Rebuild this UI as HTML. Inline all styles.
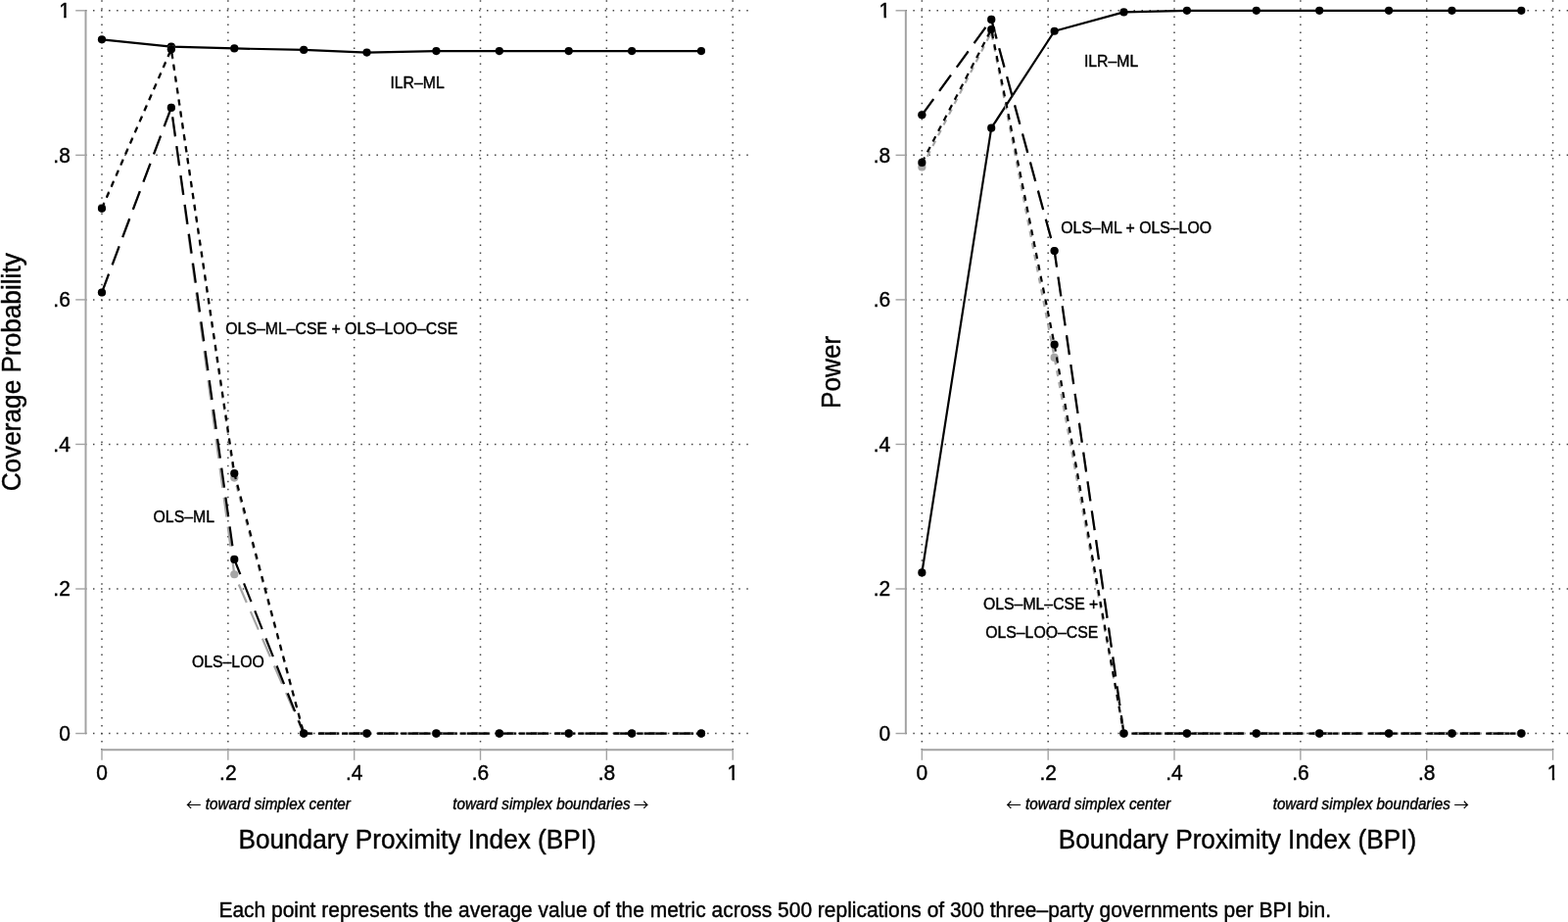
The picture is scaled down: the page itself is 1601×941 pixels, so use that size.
<!DOCTYPE html>
<html lang="en"><head><meta charset="utf-8"><title>Coverage Probability and Power by Boundary Proximity Index</title>
<style>html,body{margin:0;padding:0;background:#fff;}body{width:1601px;height:941px;overflow:hidden;}svg{display:block;}text.ar{font-family:"Noto Sans CJK SC","Liberation Sans",sans-serif;stroke-width:0.1px;}text{font-family:"Liberation Sans",sans-serif;fill:#000;stroke:#000;stroke-width:0.4px;stroke-linejoin:round;}</style></head><body>
<svg width="1601" height="941" viewBox="0 0 1601 941">
<rect width="1601" height="941" fill="#fff"/>
<defs><clipPath id="c1e"><path d="M-13.65 -22H2.00V-2.05H-4.18V2H-6.53V-2.05H-13.65Z"/></clipPath><clipPath id="c1m"><path d="M-7.83 -22H7.83V-2.05H1.65V2H-0.71V-2.05H-7.83Z"/></clipPath></defs>
<g>
<g stroke="#454545" stroke-width="1.5" stroke-dasharray="1.5 6.54" fill="none">
<line x1="86.95" y1="748.55" x2="768.00" y2="748.55"/>
<line x1="86.95" y1="601.00" x2="768.00" y2="601.00"/>
<line x1="86.95" y1="453.45" x2="768.00" y2="453.45"/>
<line x1="86.95" y1="305.90" x2="768.00" y2="305.90"/>
<line x1="86.95" y1="158.35" x2="768.00" y2="158.35"/>
<line x1="86.95" y1="10.80" x2="768.00" y2="10.80"/>
<line x1="104.00" y1="765.60" x2="104.00" y2="-8.00"/>
<line x1="232.84" y1="765.60" x2="232.84" y2="-8.00"/>
<line x1="361.68" y1="765.60" x2="361.68" y2="-8.00"/>
<line x1="490.52" y1="765.60" x2="490.52" y2="-8.00"/>
<line x1="619.36" y1="765.60" x2="619.36" y2="-8.00"/>
<line x1="748.20" y1="765.60" x2="748.20" y2="-8.00"/>
</g>
<g stroke="#a3a3a3" fill="none">
<line x1="87.50" y1="10.60" x2="87.50" y2="748.75" stroke-width="2"/>
<line x1="103.80" y1="765.20" x2="748.40" y2="765.20" stroke-width="1.9"/>
<line x1="77.20" y1="748.55" x2="87.50" y2="748.55" stroke-width="1.4"/>
<line x1="104.00" y1="765.20" x2="104.00" y2="775.80" stroke-width="1.4"/>
<line x1="77.20" y1="601.00" x2="87.50" y2="601.00" stroke-width="1.4"/>
<line x1="232.84" y1="765.20" x2="232.84" y2="775.80" stroke-width="1.4"/>
<line x1="77.20" y1="453.45" x2="87.50" y2="453.45" stroke-width="1.4"/>
<line x1="361.68" y1="765.20" x2="361.68" y2="775.80" stroke-width="1.4"/>
<line x1="77.20" y1="305.90" x2="87.50" y2="305.90" stroke-width="1.4"/>
<line x1="490.52" y1="765.20" x2="490.52" y2="775.80" stroke-width="1.4"/>
<line x1="77.20" y1="158.35" x2="87.50" y2="158.35" stroke-width="1.4"/>
<line x1="619.36" y1="765.20" x2="619.36" y2="775.80" stroke-width="1.4"/>
<line x1="77.20" y1="10.80" x2="87.50" y2="10.80" stroke-width="1.4"/>
<line x1="748.20" y1="765.20" x2="748.20" y2="775.80" stroke-width="1.4"/>
</g>
<g font-size="20.96">
<text text-anchor="end" transform="translate(71.80 755.95) scale(1 1.040)">0</text>
<text text-anchor="end" transform="translate(71.80 608.40) scale(1 1.040)">.2</text>
<text text-anchor="end" transform="translate(71.80 460.85) scale(1 1.040)">.4</text>
<text text-anchor="end" transform="translate(71.80 313.30) scale(1 1.040)">.6</text>
<text text-anchor="end" transform="translate(71.80 165.75) scale(1 1.040)">.8</text>
<text text-anchor="end" clip-path="url(#c1e)" transform="translate(71.80 18.20) scale(1 1.040)">1</text>
<text text-anchor="middle" transform="translate(104.00 796.00) scale(1 1.040)">0</text>
<text text-anchor="middle" transform="translate(232.84 796.00) scale(1 1.040)">.2</text>
<text text-anchor="middle" transform="translate(361.68 796.00) scale(1 1.040)">.4</text>
<text text-anchor="middle" transform="translate(490.52 796.00) scale(1 1.040)">.6</text>
<text text-anchor="middle" transform="translate(619.36 796.00) scale(1 1.040)">.8</text>
<text text-anchor="middle" clip-path="url(#c1m)" transform="translate(748.20 796.00) scale(1 1.040)">1</text>
</g>
<text font-size="26.20" text-anchor="middle" transform="translate(20.60 379.80) rotate(-90) scale(1 1.040)">Coverage Probability</text>
<text font-size="26.20" text-anchor="middle" transform="translate(426.10 865.50) scale(1 1.040)">Boundary Proximity Index (BPI)</text>
<text font-size="15.25" font-style="italic" transform="translate(209.70 825.90) scale(1 1.040)">toward simplex center</text>
<text font-size="15.25" font-style="italic" transform="translate(462.30 825.90) scale(1 1.040)">toward simplex boundaries</text>
<text font-size="15.40" class="ar" transform="translate(189.90 827.20)">←</text>
<text font-size="15.40" class="ar" transform="translate(647.10 827.20)">→</text>
<polyline points="104.00,40.31 174.86,47.69 239.28,49.46 310.14,50.93 374.56,53.59 445.43,52.11 509.85,52.11 580.71,52.11 645.13,52.11 715.99,52.11" fill="none" stroke="#000" stroke-width="2.20" stroke-linejoin="round"/>
<g fill="#000"><circle cx="104.00" cy="40.31" r="4.10"/><circle cx="174.86" cy="47.69" r="4.10"/><circle cx="239.28" cy="49.46" r="4.10"/><circle cx="310.14" cy="50.93" r="4.10"/><circle cx="374.56" cy="53.59" r="4.10"/><circle cx="445.43" cy="52.11" r="4.10"/><circle cx="509.85" cy="52.11" r="4.10"/><circle cx="580.71" cy="52.11" r="4.10"/><circle cx="645.13" cy="52.11" r="4.10"/><circle cx="715.99" cy="52.11" r="4.10"/></g>
<polyline points="104.00,298.52 174.86,109.88 239.28,586.24 310.14,748.55 374.56,748.55 445.43,748.55 509.85,748.55 580.71,748.55 645.13,748.55 715.99,748.55" fill="none" stroke="#a6a6a6" stroke-width="2.20" stroke-linejoin="round" stroke-dasharray="20.10 10.05"/>
<g fill="#a6a6a6"><circle cx="104.00" cy="298.52" r="4.10"/><circle cx="174.86" cy="109.88" r="4.10"/><circle cx="239.28" cy="586.24" r="4.10"/><circle cx="310.14" cy="748.55" r="4.10"/><circle cx="374.56" cy="748.55" r="4.10"/><circle cx="445.43" cy="748.55" r="4.10"/><circle cx="509.85" cy="748.55" r="4.10"/><circle cx="580.71" cy="748.55" r="4.10"/><circle cx="645.13" cy="748.55" r="4.10"/><circle cx="715.99" cy="748.55" r="4.10"/></g>
<polyline points="104.00,298.52 174.86,109.88 239.28,570.97 310.14,748.55 374.56,748.55 445.43,748.55 509.85,748.55 580.71,748.55 645.13,748.55 715.99,748.55" fill="none" stroke="#000" stroke-width="2.20" stroke-linejoin="round" stroke-dasharray="20.10 10.05"/>
<g fill="#000"><circle cx="104.00" cy="298.52" r="4.10"/><circle cx="174.86" cy="109.88" r="4.10"/><circle cx="239.28" cy="570.97" r="4.10"/><circle cx="310.14" cy="748.55" r="4.10"/><circle cx="374.56" cy="748.55" r="4.10"/><circle cx="445.43" cy="748.55" r="4.10"/><circle cx="509.85" cy="748.55" r="4.10"/><circle cx="580.71" cy="748.55" r="4.10"/><circle cx="645.13" cy="748.55" r="4.10"/><circle cx="715.99" cy="748.55" r="4.10"/></g>
<polyline points="104.00,211.84 174.86,50.20 239.28,487.61 310.14,748.55 374.56,748.55 445.43,748.55 509.85,748.55 580.71,748.55 645.13,748.55 715.99,748.55" fill="none" stroke="#a6a6a6" stroke-width="2.20" stroke-linejoin="round" stroke-dasharray="6.03 6.03"/>
<g fill="#a6a6a6"><circle cx="104.00" cy="211.84" r="4.10"/><circle cx="174.86" cy="50.20" r="4.10"/><circle cx="239.28" cy="487.61" r="4.10"/><circle cx="310.14" cy="748.55" r="4.10"/><circle cx="374.56" cy="748.55" r="4.10"/><circle cx="445.43" cy="748.55" r="4.10"/><circle cx="509.85" cy="748.55" r="4.10"/><circle cx="580.71" cy="748.55" r="4.10"/><circle cx="645.13" cy="748.55" r="4.10"/><circle cx="715.99" cy="748.55" r="4.10"/></g>
<polyline points="104.00,212.80 174.86,50.20 239.28,483.18 310.14,748.55 374.56,748.55 445.43,748.55 509.85,748.55 580.71,748.55 645.13,748.55 715.99,748.55" fill="none" stroke="#000" stroke-width="2.20" stroke-linejoin="round" stroke-dasharray="6.03 6.03"/>
<g fill="#000"><circle cx="104.00" cy="212.80" r="4.10"/><circle cx="174.86" cy="50.20" r="4.10"/><circle cx="239.28" cy="483.18" r="4.10"/><circle cx="310.14" cy="748.55" r="4.10"/><circle cx="374.56" cy="748.55" r="4.10"/><circle cx="445.43" cy="748.55" r="4.10"/><circle cx="509.85" cy="748.55" r="4.10"/><circle cx="580.71" cy="748.55" r="4.10"/><circle cx="645.13" cy="748.55" r="4.10"/><circle cx="715.99" cy="748.55" r="4.10"/></g>
<g font-size="15.84">
<text text-anchor="middle" transform="translate(426.10 90.47) scale(1 1.040)">ILR–ML</text>
<text text-anchor="middle" transform="translate(348.80 341.31) scale(1 1.040)">OLS–ML–CSE + OLS–LOO–CSE</text>
<text text-anchor="middle" transform="translate(187.75 533.12) scale(1 1.040)">OLS–ML</text>
<text text-anchor="middle" transform="translate(232.84 680.67) scale(1 1.040)">OLS–LOO</text>
</g>
</g>
<g>
<g stroke="#454545" stroke-width="1.5" stroke-dasharray="1.5 6.54" fill="none">
<line x1="924.30" y1="748.55" x2="1605.00" y2="748.55"/>
<line x1="924.30" y1="601.00" x2="1605.00" y2="601.00"/>
<line x1="924.30" y1="453.45" x2="1605.00" y2="453.45"/>
<line x1="924.30" y1="305.90" x2="1605.00" y2="305.90"/>
<line x1="924.30" y1="158.35" x2="1605.00" y2="158.35"/>
<line x1="924.30" y1="10.80" x2="1605.00" y2="10.80"/>
<line x1="941.35" y1="765.60" x2="941.35" y2="-8.00"/>
<line x1="1070.19" y1="765.60" x2="1070.19" y2="-8.00"/>
<line x1="1199.03" y1="765.60" x2="1199.03" y2="-8.00"/>
<line x1="1327.87" y1="765.60" x2="1327.87" y2="-8.00"/>
<line x1="1456.71" y1="765.60" x2="1456.71" y2="-8.00"/>
<line x1="1585.55" y1="765.60" x2="1585.55" y2="-8.00"/>
</g>
<g stroke="#a3a3a3" fill="none">
<line x1="924.85" y1="10.60" x2="924.85" y2="748.75" stroke-width="2"/>
<line x1="941.15" y1="765.20" x2="1585.75" y2="765.20" stroke-width="1.9"/>
<line x1="914.55" y1="748.55" x2="924.85" y2="748.55" stroke-width="1.4"/>
<line x1="941.35" y1="765.20" x2="941.35" y2="775.80" stroke-width="1.4"/>
<line x1="914.55" y1="601.00" x2="924.85" y2="601.00" stroke-width="1.4"/>
<line x1="1070.19" y1="765.20" x2="1070.19" y2="775.80" stroke-width="1.4"/>
<line x1="914.55" y1="453.45" x2="924.85" y2="453.45" stroke-width="1.4"/>
<line x1="1199.03" y1="765.20" x2="1199.03" y2="775.80" stroke-width="1.4"/>
<line x1="914.55" y1="305.90" x2="924.85" y2="305.90" stroke-width="1.4"/>
<line x1="1327.87" y1="765.20" x2="1327.87" y2="775.80" stroke-width="1.4"/>
<line x1="914.55" y1="158.35" x2="924.85" y2="158.35" stroke-width="1.4"/>
<line x1="1456.71" y1="765.20" x2="1456.71" y2="775.80" stroke-width="1.4"/>
<line x1="914.55" y1="10.80" x2="924.85" y2="10.80" stroke-width="1.4"/>
<line x1="1585.55" y1="765.20" x2="1585.55" y2="775.80" stroke-width="1.4"/>
</g>
<g font-size="20.96">
<text text-anchor="end" transform="translate(909.15 755.95) scale(1 1.040)">0</text>
<text text-anchor="end" transform="translate(909.15 608.40) scale(1 1.040)">.2</text>
<text text-anchor="end" transform="translate(909.15 460.85) scale(1 1.040)">.4</text>
<text text-anchor="end" transform="translate(909.15 313.30) scale(1 1.040)">.6</text>
<text text-anchor="end" transform="translate(909.15 165.75) scale(1 1.040)">.8</text>
<text text-anchor="end" clip-path="url(#c1e)" transform="translate(909.15 18.20) scale(1 1.040)">1</text>
<text text-anchor="middle" transform="translate(941.35 796.00) scale(1 1.040)">0</text>
<text text-anchor="middle" transform="translate(1070.19 796.00) scale(1 1.040)">.2</text>
<text text-anchor="middle" transform="translate(1199.03 796.00) scale(1 1.040)">.4</text>
<text text-anchor="middle" transform="translate(1327.87 796.00) scale(1 1.040)">.6</text>
<text text-anchor="middle" transform="translate(1456.71 796.00) scale(1 1.040)">.8</text>
<text text-anchor="middle" clip-path="url(#c1m)" transform="translate(1585.55 796.00) scale(1 1.040)">1</text>
</g>
<text font-size="26.20" text-anchor="middle" transform="translate(857.95 379.80) rotate(-90) scale(1 1.040)">Power</text>
<text font-size="26.20" text-anchor="middle" transform="translate(1263.45 865.50) scale(1 1.040)">Boundary Proximity Index (BPI)</text>
<text font-size="15.25" font-style="italic" transform="translate(1047.05 825.90) scale(1 1.040)">toward simplex center</text>
<text font-size="15.25" font-style="italic" transform="translate(1299.65 825.90) scale(1 1.040)">toward simplex boundaries</text>
<text font-size="15.40" class="ar" transform="translate(1027.25 827.20)">←</text>
<text font-size="15.40" class="ar" transform="translate(1484.45 827.20)">→</text>
<polyline points="941.35,584.47 1012.21,130.68 1076.63,31.75 1147.49,12.42 1211.91,10.80 1282.78,10.80 1347.20,10.80 1418.06,10.80 1482.48,10.80 1553.34,10.80" fill="none" stroke="#000" stroke-width="2.20" stroke-linejoin="round"/>
<g fill="#000"><circle cx="941.35" cy="584.47" r="4.10"/><circle cx="1012.21" cy="130.68" r="4.10"/><circle cx="1076.63" cy="31.75" r="4.10"/><circle cx="1147.49" cy="12.42" r="4.10"/><circle cx="1211.91" cy="10.80" r="4.10"/><circle cx="1282.78" cy="10.80" r="4.10"/><circle cx="1347.20" cy="10.80" r="4.10"/><circle cx="1418.06" cy="10.80" r="4.10"/><circle cx="1482.48" cy="10.80" r="4.10"/><circle cx="1553.34" cy="10.80" r="4.10"/></g>
<polyline points="941.35,117.33 1012.21,19.95 1076.63,256.03 1147.49,748.55 1211.91,748.55 1282.78,748.55 1347.20,748.55 1418.06,748.55 1482.48,748.55 1553.34,748.55" fill="none" stroke="#a6a6a6" stroke-width="2.20" stroke-linejoin="round" stroke-dasharray="20.10 10.05"/>
<g fill="#a6a6a6"><circle cx="941.35" cy="117.33" r="4.10"/><circle cx="1012.21" cy="19.95" r="4.10"/><circle cx="1076.63" cy="256.03" r="4.10"/><circle cx="1147.49" cy="748.55" r="4.10"/><circle cx="1211.91" cy="748.55" r="4.10"/><circle cx="1282.78" cy="748.55" r="4.10"/><circle cx="1347.20" cy="748.55" r="4.10"/><circle cx="1418.06" cy="748.55" r="4.10"/><circle cx="1482.48" cy="748.55" r="4.10"/><circle cx="1553.34" cy="748.55" r="4.10"/></g>
<polyline points="941.35,117.33 1012.21,19.95 1076.63,256.03 1147.49,748.55 1211.91,748.55 1282.78,748.55 1347.20,748.55 1418.06,748.55 1482.48,748.55 1553.34,748.55" fill="none" stroke="#000" stroke-width="2.20" stroke-linejoin="round" stroke-dasharray="20.10 10.05"/>
<g fill="#000"><circle cx="941.35" cy="117.33" r="4.10"/><circle cx="1012.21" cy="19.95" r="4.10"/><circle cx="1076.63" cy="256.03" r="4.10"/><circle cx="1147.49" cy="748.55" r="4.10"/><circle cx="1211.91" cy="748.55" r="4.10"/><circle cx="1282.78" cy="748.55" r="4.10"/><circle cx="1347.20" cy="748.55" r="4.10"/><circle cx="1418.06" cy="748.55" r="4.10"/><circle cx="1482.48" cy="748.55" r="4.10"/><circle cx="1553.34" cy="748.55" r="4.10"/></g>
<polyline points="941.35,170.45 1012.21,32.86 1076.63,364.92 1147.49,748.55 1211.91,748.55 1282.78,748.55 1347.20,748.55 1418.06,748.55 1482.48,748.55 1553.34,748.55" fill="none" stroke="#a6a6a6" stroke-width="2.20" stroke-linejoin="round" stroke-dasharray="6.03 6.03"/>
<g fill="#a6a6a6"><circle cx="941.35" cy="170.45" r="4.10"/><circle cx="1012.21" cy="32.86" r="4.10"/><circle cx="1076.63" cy="364.92" r="4.10"/><circle cx="1147.49" cy="748.55" r="4.10"/><circle cx="1211.91" cy="748.55" r="4.10"/><circle cx="1282.78" cy="748.55" r="4.10"/><circle cx="1347.20" cy="748.55" r="4.10"/><circle cx="1418.06" cy="748.55" r="4.10"/><circle cx="1482.48" cy="748.55" r="4.10"/><circle cx="1553.34" cy="748.55" r="4.10"/></g>
<polyline points="941.35,165.95 1012.21,29.98 1076.63,351.64 1147.49,748.55 1211.91,748.55 1282.78,748.55 1347.20,748.55 1418.06,748.55 1482.48,748.55 1553.34,748.55" fill="none" stroke="#000" stroke-width="2.20" stroke-linejoin="round" stroke-dasharray="6.03 6.03"/>
<g fill="#000"><circle cx="941.35" cy="165.95" r="4.10"/><circle cx="1012.21" cy="29.98" r="4.10"/><circle cx="1076.63" cy="351.64" r="4.10"/><circle cx="1147.49" cy="748.55" r="4.10"/><circle cx="1211.91" cy="748.55" r="4.10"/><circle cx="1282.78" cy="748.55" r="4.10"/><circle cx="1347.20" cy="748.55" r="4.10"/><circle cx="1418.06" cy="748.55" r="4.10"/><circle cx="1482.48" cy="748.55" r="4.10"/><circle cx="1553.34" cy="748.55" r="4.10"/></g>
<g font-size="15.84">
<text text-anchor="middle" transform="translate(1134.61 68.34) scale(1 1.040)">ILR–ML</text>
<text text-anchor="start" transform="translate(1083.27 238.03) scale(1 1.040)">OLS–ML + OLS–LOO</text>
<text text-anchor="end" transform="translate(1121.34 621.65) scale(1 1.040)">OLS–ML–CSE +</text>
<text text-anchor="end" transform="translate(1121.34 651.16) scale(1 1.040)">OLS–LOO–CSE</text>
</g>
</g>
<text font-size="20.96" text-anchor="middle" transform="translate(791.20 936.30) scale(1 1.040)">Each point represents the average value of the metric across 500 replications of 300 three–party governments per BPI bin.</text>
</svg></body></html>
